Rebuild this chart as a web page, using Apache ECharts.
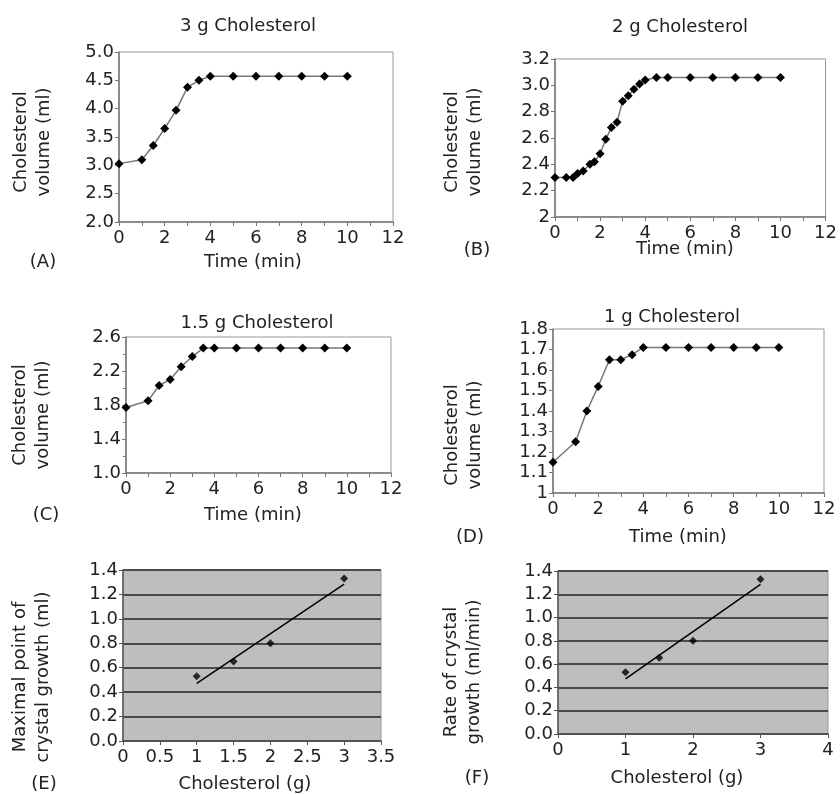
<!DOCTYPE html>
<html>
<head>
<meta charset="utf-8">
<title>Cholesterol crystal growth</title>
<script src="https://cdn.jsdelivr.net/npm/echarts@6/dist/echarts.min.js"></script>
<style>
  html, body { margin: 0; padding: 0; background: #fff; }
  #main { width: 840px; height: 794px; }
</style>
</head>
<body>
<div id="main"></div>
<script>
// ---- data ----
var timeA = [0, 1, 1.5, 2, 2.5, 3, 3.5, 4, 5, 6, 7, 8, 9, 10];
var volA = [3.03, 3.1, 3.35, 3.65, 3.97, 4.38, 4.5, 4.57, 4.57, 4.57, 4.57, 4.57, 4.57, 4.57];

var timeB = [0, 0.5, 0.8, 1, 1.25, 1.55, 1.75, 2, 2.25, 2.5, 2.75, 3, 3.25, 3.5, 3.75, 4, 4.5, 5, 6, 7, 8, 9, 10];
var volB = [2.3, 2.3, 2.3, 2.33, 2.35, 2.4, 2.42, 2.48, 2.59, 2.68, 2.72, 2.88, 2.92, 2.97, 3.01, 3.04, 3.06, 3.06, 3.06, 3.06, 3.06, 3.06, 3.06];

var timeC = [0, 1, 1.5, 2, 2.5, 3, 3.5, 4, 5, 6, 7, 8, 9, 10];
var volC = [1.77, 1.85, 2.03, 2.1, 2.25, 2.37, 2.47, 2.47, 2.47, 2.47, 2.47, 2.47, 2.47, 2.47];

var timeD = [0, 1, 1.5, 2, 2.5, 3, 3.5, 4, 5, 6, 7, 8, 9, 10];
var volD = [1.15, 1.25, 1.4, 1.52, 1.65, 1.65, 1.675, 1.71, 1.71, 1.71, 1.71, 1.71, 1.71, 1.71];

var dose = [1, 1.5, 2, 3];
var maxGrowth = [0.53, 0.65, 0.8, 1.33];
var growthRate = [0.53, 0.655, 0.8, 1.33];

var titles = ['3 g Cholesterol', '2 g Cholesterol', '1.5 g Cholesterol', '1 g Cholesterol'];

var FONT = 'DejaVu Sans';

function pairs(xs, ys) {
  var out = [];
  for (var i = 0; i < xs.length; i++) out.push([xs[i], ys[i]]);
  return out;
}

// least squares line, drawn between the first and last dose
function trend(xs, ys) {
  var n = xs.length, mx = 0, my = 0, sxx = 0, sxy = 0;
  for (var i = 0; i < n; i++) { mx += xs[i] / n; my += ys[i] / n; }
  for (var j = 0; j < n; j++) {
    sxx += (xs[j] - mx) * (xs[j] - mx);
    sxy += (xs[j] - mx) * (ys[j] - my);
  }
  var b = sxy / sxx, a = my - b * mx;
  var x0 = xs[0], x1 = xs[n - 1];
  return [[x0, a + b * x0], [x1, a + b * x1]];
}

var grids = [
  { left: 119, top: 52, width: 274, height: 170 },
  { left: 555, top: 59, width: 271, height: 158 },
  { left: 126, top: 337, width: 265, height: 136 },
  { left: 553, top: 329, width: 271, height: 164 },
  { left: 123, top: 570, width: 258, height: 171 },
  { left: 558, top: 571, width: 270, height: 163 }
];

grids.forEach(function (g, i) {
  g.show = true;
  g.borderColor = '#999';
  g.borderWidth = 1;
  g.containLabel = false;
  if (i >= 4) g.backgroundColor = '#bebebe';
});

var labelStyle = { color: '#222', fontFamily: FONT, fontSize: 18 };

function xTime(gi) {
  return {
    type: 'value', gridIndex: gi, min: 0, max: 12, interval: 2,
    axisLine: { lineStyle: { color: '#777', width: 1.5 } },
    axisTick: { show: true, length: 4, lineStyle: { color: '#777' } },
    minorTick: { show: true, splitNumber: 2, length: 4, lineStyle: { color: '#777' } },
    splitLine: { show: false },
    axisLabel: Object.assign({ margin: 7 }, labelStyle)
  };
}

function yVol(gi, min, max, interval, minorSplit, fmt) {
  return {
    type: 'value', gridIndex: gi, min: min, max: max, interval: interval,
    axisLine: { show: true, lineStyle: { color: '#777', width: 1.5 } },
    axisTick: { show: true, length: 4, lineStyle: { color: '#777' } },
    minorTick: { show: minorSplit > 1, splitNumber: minorSplit || 1, length: 3, lineStyle: { color: '#777' } },
    splitLine: { show: false },
    axisLabel: Object.assign({ margin: 5, formatter: fmt }, labelStyle)
  };
}

function oneDec(v) { return v.toFixed(1); }
function oneDecWhole(whole) {
  return function (v) { return v === whole ? String(whole) : v.toFixed(1); };
}

var xAxes = [xTime(0), xTime(1), xTime(2), xTime(3),
  {
    type: 'value', gridIndex: 4, min: 0, max: 3.5, interval: 0.5,
    axisLine: { lineStyle: { color: '#555', width: 1.5 } },
    axisTick: { show: true, length: 4, lineStyle: { color: '#555' } },
    splitLine: { show: false },
    axisLabel: Object.assign({ margin: 7 }, labelStyle)
  },
  {
    type: 'value', gridIndex: 5, min: 0, max: 4, interval: 1,
    axisLine: { lineStyle: { color: '#555', width: 1.5 } },
    axisTick: { show: true, length: 4, lineStyle: { color: '#555' } },
    splitLine: { show: false },
    axisLabel: Object.assign({ margin: 7 }, labelStyle)
  }
];

function yGrowth(gi) {
  return {
    type: 'value', gridIndex: gi, min: 0, max: 1.4, interval: 0.2,
    axisLine: { show: true, lineStyle: { color: '#555', width: 1.5 } },
    axisTick: { show: true, length: 4, lineStyle: { color: '#555' } },
    splitLine: { show: true, lineStyle: { color: '#4a4a4a', width: 2 } },
    axisLabel: Object.assign({ margin: 5, formatter: oneDec }, labelStyle)
  };
}

var yAxes = [
  yVol(0, 2, 5, 0.5, 1, oneDec),
  yVol(1, 2, 3.2, 0.2, 1, oneDecWhole(2)),
  yVol(2, 1, 2.6, 0.4, 2, oneDec),
  yVol(3, 1, 1.8, 0.1, 1, oneDecWhole(1)),
  yGrowth(4),
  yGrowth(5)
];

function timeSeries(gi, xs, ys) {
  return {
    type: 'line', xAxisIndex: gi, yAxisIndex: gi,
    data: pairs(xs, ys),
    symbol: 'diamond', symbolSize: 9, showAllSymbol: true,
    itemStyle: { color: '#000' },
    lineStyle: { color: '#777', width: 1.5 },
    silent: true, animation: false
  };
}

function doseSeries(gi, ys) {
  return [
    {
      type: 'scatter', xAxisIndex: gi, yAxisIndex: gi,
      data: pairs(dose, ys), symbol: 'diamond', symbolSize: 8,
      itemStyle: { color: '#000' }, silent: true, animation: false, z: 3
    },
    {
      type: 'line', xAxisIndex: gi, yAxisIndex: gi,
      data: trend(dose, ys), symbol: 'none',
      lineStyle: { color: '#000', width: 1.5 }, silent: true, animation: false
    }
  ];
}

var series = [
  timeSeries(0, timeA, volA),
  timeSeries(1, timeB, volB),
  timeSeries(2, timeC, volC),
  timeSeries(3, timeD, volD)
].concat(doseSeries(4, maxGrowth), doseSeries(5, growthRate));

// titles, axis names and panel letters as placed text
function txt(x, y, s, rot) {
  return {
    type: 'text', x: x, y: y, rotation: rot || 0,
    style: {
      text: s, fill: '#222', font: '18px "' + FONT + '"',
      textAlign: 'center', textVerticalAlign: 'middle', lineHeight: 23
    }
  };
}
var R = Math.PI / 2;
var graphics = [
  txt(248, 26, titles[0]), txt(680, 27, titles[1]),
  txt(257, 323, titles[2]), txt(672, 317, titles[3]),

  txt(253, 262, 'Time (min)'), txt(685, 249, 'Time (min)'),
  txt(253, 515, 'Time (min)'), txt(678, 537, 'Time (min)'),
  txt(245, 784, 'Cholesterol (g)'), txt(677, 778, 'Cholesterol (g)'),

  txt(33, 142, 'Cholesterol\nvolume (ml)', R), txt(464, 142, 'Cholesterol\nvolume (ml)', R),
  txt(32, 415, 'Cholesterol\nvolume (ml)', R), txt(464, 435, 'Cholesterol\nvolume (ml)', R),
  txt(32, 677, 'Maximal point of\ncrystal growth (ml)', R),
  txt(463, 672, 'Rate of crystal\ngrowth (ml/min)', R),

  txt(43, 262, '(A)'), txt(477, 250, '(B)'),
  txt(46, 515, '(C)'), txt(470, 537, '(D)'),
  txt(44, 784, '(E)'), txt(477, 778, '(F)')
];

var chart = echarts.init(document.getElementById('main'), null, { renderer: 'canvas' });
chart.setOption({
  animation: false,
  backgroundColor: '#fff',
  grid: grids,
  xAxis: xAxes,
  yAxis: yAxes,
  series: series,
  graphic: graphics
});
</script>
</body>
</html>
